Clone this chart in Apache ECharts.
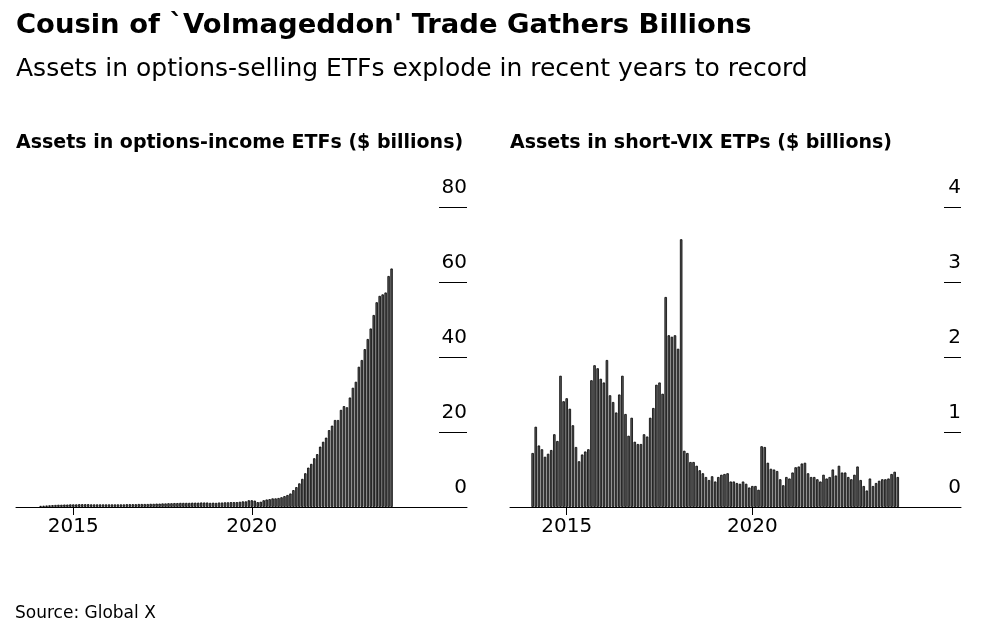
<!DOCTYPE html>
<html>
<head>
<meta charset="utf-8">
<script src="https://cdn.jsdelivr.net/npm/echarts@6/dist/echarts.min.js"></script>
<style>
  html, body { margin: 0; padding: 0; background: #fff; }
  #chart { width: 1000px; height: 639px; }
</style>
</head>
<body>
<div id="chart"></div>
<script>
// monthly month-end values, Jan 2014 .. Nov 2023
var startYear = 2014;

// options-income ETFs, $ billions
var incomeAssets = [
  0.3, 0.35, 0.4, 0.45, 0.5, 0.55, 0.6, 0.6, 0.65, 0.65, 0.7, 0.7,
  0.7, 0.75, 0.75, 0.75, 0.75, 0.7, 0.7, 0.7, 0.7, 0.7, 0.7, 0.7,
  0.7, 0.7, 0.7, 0.7, 0.7, 0.75, 0.75, 0.75, 0.75, 0.8, 0.8, 0.8,
  0.8, 0.85, 0.85, 0.9, 0.9, 0.95, 0.95, 1.0, 1.0, 1.05, 1.05, 1.1,
  1.1, 1.1, 1.1, 1.15, 1.15, 1.15, 1.2, 1.2, 1.2, 1.1, 1.15, 1.1,
  1.2, 1.2, 1.25, 1.25, 1.3, 1.3, 1.3, 1.4, 1.5, 1.5, 1.8, 1.8,
  1.7, 1.3, 1.4, 1.8, 2.0, 2.1, 2.3, 2.3, 2.4, 2.6, 2.9, 3.2,
  3.6, 4.5, 5.3, 6.3, 7.5, 9.0, 10.5, 11.5, 13.0, 14.1, 16.1, 17.4,
  18.5, 20.5, 21.7, 23.2, 23.2, 25.9, 26.9, 26.6, 29.2, 31.8, 33.4, 37.4,
  39.2, 42.1, 44.8, 47.6, 51.2, 54.6, 56.3, 56.7, 57.2, 61.6, 63.6
];

// short-VIX ETPs, $ billions
var shortVixAssets = [
  0.72, 1.07, 0.82, 0.77, 0.67, 0.71, 0.76, 0.97, 0.88, 1.75, 1.41, 1.45,
  1.31, 1.09, 0.80, 0.61, 0.70, 0.74, 0.77, 1.69, 1.89, 1.85, 1.71, 1.66,
  1.96, 1.49, 1.40, 1.26, 1.50, 1.75, 1.24, 0.95, 1.19, 0.87, 0.84, 0.84,
  0.97, 0.94, 1.19, 1.32, 1.63, 1.66, 1.51, 2.80, 2.29, 2.27, 2.29, 2.11,
  3.57, 0.75, 0.72, 0.60, 0.60, 0.55, 0.49, 0.45, 0.40, 0.36, 0.41, 0.34,
  0.40, 0.43, 0.44, 0.45, 0.34, 0.34, 0.32, 0.31, 0.34, 0.31, 0.26, 0.28,
  0.28, 0.23, 0.81, 0.80, 0.59, 0.51, 0.50, 0.48, 0.37, 0.29, 0.40, 0.38,
  0.46, 0.53, 0.54, 0.58, 0.59, 0.45, 0.40, 0.40, 0.37, 0.34, 0.43, 0.38,
  0.40, 0.50, 0.42, 0.55, 0.46, 0.46, 0.40, 0.37, 0.43, 0.54, 0.36, 0.28,
  0.22, 0.38, 0.28, 0.32, 0.35, 0.37, 0.37, 0.38, 0.44, 0.47, 0.40
];

var yearTicks = [2015, 2020];

// month-end position as decimal year
function pairs(vals) {
  return vals.map(function (v, i) { return [startYear + (i + 1) / 12, v]; });
}

var FONT = '"DejaVu Sans", Verdana, sans-serif';

function xAxisFor(idx, min, max) {
  return {
    gridIndex: idx, type: 'value', min: min, max: max,
    axisLine: { show: true, lineStyle: { color: '#000', width: 1 } },
    axisTick: { show: true, customValues: yearTicks, length: 8, lineStyle: { color: '#000' } },
    axisLabel: { customValues: yearTicks, color: '#000', fontSize: 20, fontFamily: FONT, margin: 10,
      formatter: function (v) { return String(v); } },
    splitLine: { show: false }
  };
}

function yAxisFor(idx, max, tickLen) {
  return {
    gridIndex: idx, type: 'value', min: 0, max: max, interval: max / 4, position: 'right',
    axisLine: { show: false },
    axisTick: { show: true, inside: true, length: tickLen, lineStyle: { color: '#000', width: 1 } },
    axisLabel: { inside: true, margin: 0, align: 'right', verticalAlign: 'bottom',
      padding: [0, 0, 9, 0], color: '#000', fontSize: 20, fontFamily: FONT },
    splitLine: { show: false }
  };
}

var barStyle = { color: '#5a5a5a', borderColor: '#000', borderWidth: 0.8 };

function heading(text, left, top, size, weight) {
  return { text: text, left: left, top: top, padding: 0,
    textStyle: { fontSize: size, fontWeight: weight, color: '#000', fontFamily: FONT } };
}

var chart = echarts.init(document.getElementById('chart'), null, { renderer: 'canvas' });
chart.setOption({
  backgroundColor: '#fff',
  animation: false,
  title: [
    heading("Cousin of `Volmageddon' Trade Gathers Billions", 16, 12, 27.4, 'bold'),
    heading('Assets in options-selling ETFs explode in recent years to record', 16, 57, 25, 'normal'),
    heading('Assets in options-income ETFs ($ billions)', 16, 134, 19, 'bold'),
    heading('Assets in short-VIX ETPs ($ billions)', 510, 134, 19, 'bold'),
    heading('Source: Global X', 15, 605, 17, 'normal')
  ],
  grid: [
    { left: 16, right: 1000 - 467, top: 207, bottom: 639 - 507 },
    { left: 510, right: 1000 - 961, top: 207, bottom: 639 - 507 }
  ],
  xAxis: [
    xAxisFor(0, 2013.394, 2026.03),
    xAxisFor(1, 2013.473, 2025.62)
  ],
  yAxis: [
    yAxisFor(0, 80, 28),
    yAxisFor(1, 4, 17)
  ],
  series: [
    { type: 'bar', xAxisIndex: 0, yAxisIndex: 0, data: pairs(incomeAssets),
      barWidth: 2.4, itemStyle: barStyle, silent: true },
    { type: 'bar', xAxisIndex: 1, yAxisIndex: 1, data: pairs(shortVixAssets),
      barWidth: 2.5, itemStyle: barStyle, silent: true }
  ]
});
</script>
</body>
</html>
